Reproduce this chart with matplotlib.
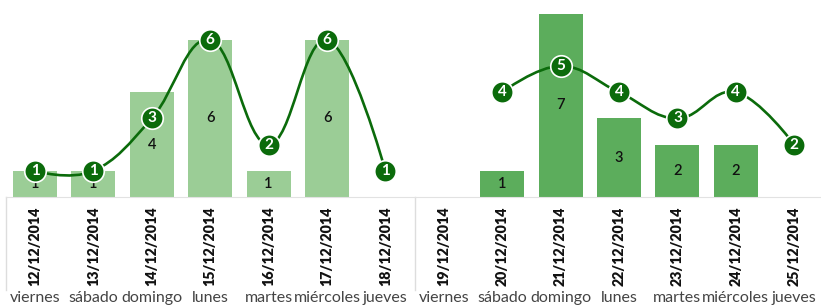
import matplotlib.pyplot as plt
from matplotlib.path import Path
from matplotlib.patches import PathPatch
import matplotlib.transforms as mtransforms

# Data
dates = ['12/12/2014', '13/12/2014', '14/12/2014', '15/12/2014', '16/12/2014', '17/12/2014', '18/12/2014',
         '19/12/2014', '20/12/2014', '21/12/2014', '22/12/2014', '23/12/2014', '24/12/2014', '25/12/2014']
weekdays = ['viernes', 'sábado', 'domingo', 'lunes', 'martes', 'miércoles', 'jueves',
            'viernes', 'sábado', 'domingo', 'lunes', 'martes', 'miércoles', 'jueves']
bars_week1 = [1, 1, 4, 6, 1, 6, 0]
bars_week2 = [0, 1, 7, 3, 2, 2, 0]
line_week1 = [1, 1, 3, 6, 2, 6, 1]
line_week2 = [None, 4, 5, 4, 3, 4, 2]

light_green = '#9bcd96'
dark_green = '#5cad5c'
line_green = '#0b6b0b'

plt.rcParams['font.family'] = ['Lato', 'DejaVu Sans']


def spline_path(xs, ys, smoothing=1.5):
    # highcharts style spline through the points
    denom = smoothing + 1
    n = len(xs)
    left = [(xs[i], ys[i]) for i in range(n)]
    right = [(xs[i], ys[i]) for i in range(n)]
    for i in range(1, n - 1):
        px, py = xs[i], ys[i]
        lcx = (smoothing * px + xs[i - 1]) / denom
        lcy = (smoothing * py + ys[i - 1]) / denom
        rcx = (smoothing * px + xs[i + 1]) / denom
        rcy = (smoothing * py + ys[i + 1]) / denom
        corr = (rcy - lcy) * (rcx - px) / (rcx - lcx) + py - rcy
        left[i] = (lcx, lcy + corr)
        right[i] = (rcx, rcy + corr)
    verts = [(xs[0], ys[0])]
    codes = [Path.MOVETO]
    for i in range(1, n):
        verts += [right[i - 1], left[i], (xs[i], ys[i])]
        codes += [Path.CURVE4] * 3
    return Path(verts, codes)


fig = plt.figure(figsize=(8.21, 3.07), dpi=100)
ax = fig.add_axes([5.8 / 821, 110 / 307, 817.6 / 821, 197 / 307])

x1 = list(range(7))
x2 = list(range(7, 14))
ax.bar(x1, bars_week1, width=0.755, color=light_green, zorder=2)
ax.bar(x2, bars_week2, width=0.755, color=dark_green, zorder=2)

for xs, vals in [(x1, bars_week1), (x2, bars_week2)]:
    for x, v in zip(xs, vals):
        if v > 0:
            ax.text(x, v / 2, str(v), ha='center', va='center', fontsize=10.5,
                    fontweight='semibold', color='#111111', zorder=3)

for xs, vals in [(x1, line_week1), (x2, line_week2)]:
    px = [x for x, v in zip(xs, vals) if v is not None]
    py = [v for v in vals if v is not None]
    ax.add_patch(PathPatch(spline_path(px, py), fill=False, edgecolor=line_green,
                           lw=1.9, zorder=4))
    ax.plot(px, py, 'o', ms=15.5, mfc=line_green, mec='white', mew=1.2, zorder=5)
    for x, v in zip(px, py):
        ax.text(x, v, str(v), ha='center', va='center', fontsize=11,
                fontweight='bold', color='white', zorder=6)

ax.set_xlim(-0.5, 13.5)
ax.set_ylim(0, 7.52)
ax.set_yticks([])
ax.set_xticks(range(14))
ax.set_xticklabels(dates, rotation=90, fontsize=10.3, fontweight='heavy', color='#111111')
ax.tick_params(axis='x', length=0, pad=7)
for s in ['top', 'right', 'left']:
    ax.spines[s].set_visible(False)
ax.spines['bottom'].set_color('#e2e2e2')

# weekday row and separators below the axis
trans = mtransforms.blended_transform_factory(ax.transData, ax.transAxes)
for i, d in enumerate(weekdays):
    ax.text(i, -101 / 197, d, transform=trans, ha='center', va='center',
            fontsize=11.5, color='#444444', clip_on=False)
for xv in [-0.5, 6.5]:
    ax.plot([xv, xv], [0, -93 / 197], transform=trans, color='#dddddd', lw=1,
            clip_on=False)

plt.savefig('out.png')
